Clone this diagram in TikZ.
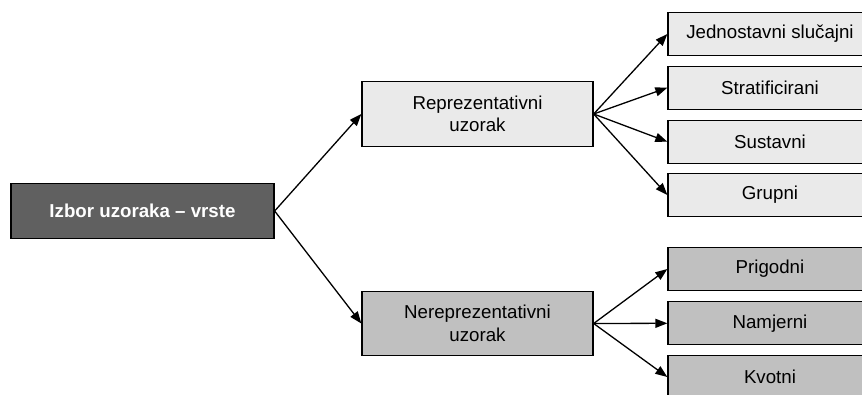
\documentclass[tikz,border=0pt]{standalone}
\usepackage{fontspec}
\setmainfont{Liberation Sans}
\usetikzlibrary{arrows.meta}
\definecolor{rootfill}{HTML}{606060}
\definecolor{lightfill}{HTML}{EAEAEA}
\definecolor{midfill}{HTML}{C0C0C0}
\begin{document}
\begin{tikzpicture}[x=1pt,y=-1pt,
  box/.style={draw=black,line width=1.3pt,inner sep=0pt,align=center,
    font=\fontsize{18.7}{22.5}\selectfont},
  rootbox/.style={box,fill=rootfill,text=white,minimum width=263pt,minimum height=55.5pt,
    font=\fontsize{18.7}{22.5}\selectfont\bfseries},
  midbox/.style={box,minimum width=231pt,minimum height=64.5pt},
  leafbox/.style={box,minimum width=204pt,minimum height=43pt},
  conn/.style={line width=1.3pt,-{Triangle[length=12pt,width=9pt]}}]
\useasboundingbox (0,0) rectangle (862,395);
\clip (0,0) rectangle (862,395);
\node[rootbox] (root) at (142.5,211) {Izbor uzoraka -- vrste};
\node[midbox,fill=lightfill] (rep) at (477.5,114) {Reprezentativni\\uzorak};
\node[midbox,fill=midfill] (nrep) at (477.5,323.5) {Nereprezentativni\\uzorak};
\node[leafbox,fill=lightfill] (j) at (770,34) {Jednostavni slučajni};
\node[leafbox,fill=lightfill] (s) at (770,87.7) {Stratificirani};
\node[leafbox,fill=lightfill] (su) at (770,141.7) {Sustavni};
\node[leafbox,fill=lightfill] (g) at (770,195) {Grupni};
\node[leafbox,fill=midfill] (p) at (770,269) {Prigodni};
\node[leafbox,fill=midfill] (n) at (770,323.3) {Namjerni};
\node[leafbox,fill=midfill] (k) at (770,377) {Kvotni};
\draw[conn] (root.east) -- (rep.west);
\draw[conn] (root.east) -- (nrep.west);
\foreach \t in {j,s,su,g} \draw[conn] (rep.east) -- (\t.west);
\foreach \t in {p,n,k} \draw[conn] (nrep.east) -- (\t.west);
\end{tikzpicture}
\end{document}
